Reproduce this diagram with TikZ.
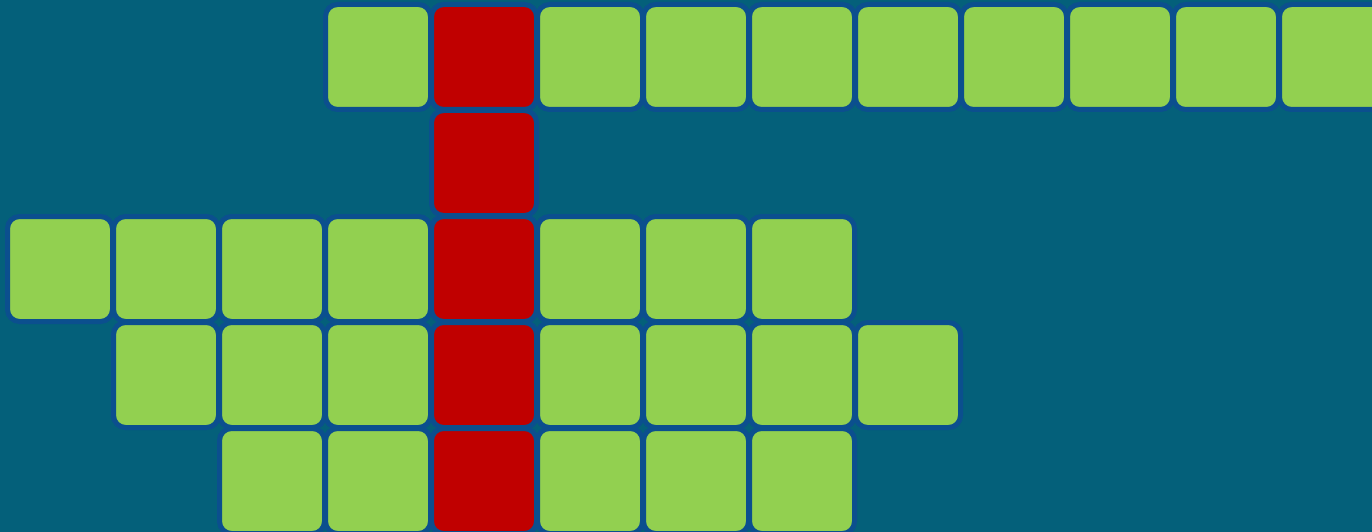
\documentclass[tikz,border=0pt]{standalone}
\definecolor{bgc}{HTML}{04607A}
\definecolor{edgec}{HTML}{0B4F8E}
\definecolor{greenc}{HTML}{92D050}
\definecolor{redc}{HTML}{C00000}
\tikzset{
  cell/.style={draw=edgec, line width=5pt, rounded corners=12pt, minimum size=105pt, inner sep=0pt, outer sep=0pt},
  gcell/.style={cell, fill=greenc},
  rcell/.style={cell, fill=redc}
}
\begin{document}
\begin{tikzpicture}[x=1pt,y=-1pt]
\useasboundingbox (0,0) rectangle (1372,532);
\clip (0,0) rectangle (1372,532);
\fill[bgc] (0,0) rectangle (1372,532);
% row 0
\foreach \c in {3,5,6,7,8,9,10,11,12} \node[gcell] (g0-\c) at (60+106*\c, 57) {};
\node[rcell] (r0) at (60+106*4, 57) {};
% row 1
\node[rcell] (r1) at (60+106*4, 57+106) {};
% row 2
\foreach \c in {0,1,2,3,5,6,7} \node[gcell] (g2-\c) at (60+106*\c, 57+212) {};
\node[rcell] (r2) at (60+106*4, 57+212) {};
% row 3
\foreach \c in {1,2,3,5,6,7,8} \node[gcell] (g3-\c) at (60+106*\c, 57+318) {};
\node[rcell] (r3) at (60+106*4, 57+318) {};
% row 4
\foreach \c in {2,3,5,6,7} \node[gcell] (g4-\c) at (60+106*\c, 57+424) {};
\node[rcell] (r4) at (60+106*4, 57+424) {};
\end{tikzpicture}
\end{document}
